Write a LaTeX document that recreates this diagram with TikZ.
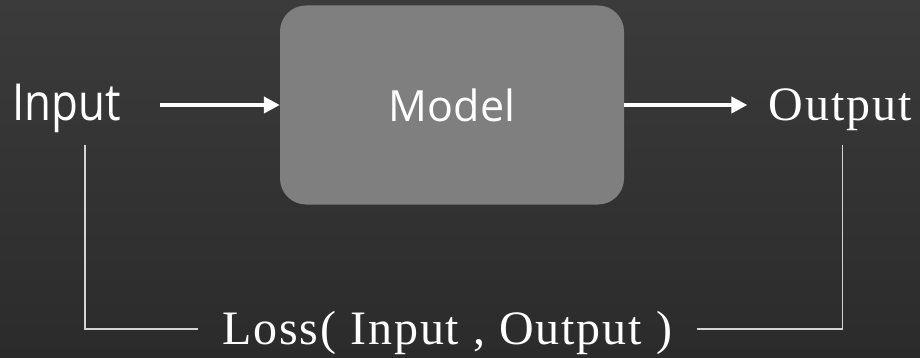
\documentclass[tikz,border=0pt]{standalone}
\usepackage{fontspec}
\usepackage{tikz}
\usetikzlibrary{arrows.meta, positioning}
\newfontfamily\boxfont{Open Sans}
\newfontfamily\infont[FakeStretch=0.86]{Open Sans}
\newfontfamily\outfont[LetterSpace=4]{Liberation Serif}
\definecolor{bgtop}{HTML}{3B3B3B}
\definecolor{bgbot}{HTML}{2B2B2B}
\definecolor{boxgray}{HTML}{7F7F7F}
\definecolor{wire}{HTML}{D4D4D4}
\tikzset{
  x=1pt, y=-1pt,
  txt/.style={text=white, inner sep=0pt, anchor=base},
  model/.style={fill=boxgray, rounded corners=26pt, minimum width=344pt, minimum height=199pt, text=white, font=\boxfont\fontsize{43}{43}\selectfont},
  flow/.style={-{Triangle[length=16pt,width=16pt]}, white, line width=4.5pt},
  feedback/.style={wire, line width=1.4pt}
}

\begin{document}
\begin{tikzpicture}
\fill[top color=bgtop, bottom color=bgbot] (0,0) rectangle (920,358);
\useasboundingbox (0,0) rectangle (920,358);

\node[model] (mdl) at (452,105) {Model};
\node[txt, font=\infont\fontsize{51}{51}\selectfont] (inp) at (66.5,121) {Input};
\node[txt, font=\outfont\fontsize{48}{48}\selectfont] (out) at (840,121) {Output};
\node[txt, font=\outfont\fontsize{48}{48}\selectfont] (loss) at (447,344) {Loss( Input , Output )};

% corners of the feedback loop
\coordinate (lt) at (85,145);
\coordinate (rt) at (842.5,145);
\coordinate (lb) at (85,329);

\draw[flow, shorten <=39pt] (mdl.west -| inp.east) -- (mdl.west);
\draw[flow, shorten >=21pt] (mdl.east) -- (mdl.east -| out.west);

\draw[feedback] (lt) |- ([xshift=-24pt]loss.west |- lb);
\draw[feedback] (rt) |- ([xshift=25pt]loss.east |- lb);
\end{tikzpicture}
\end{document}
